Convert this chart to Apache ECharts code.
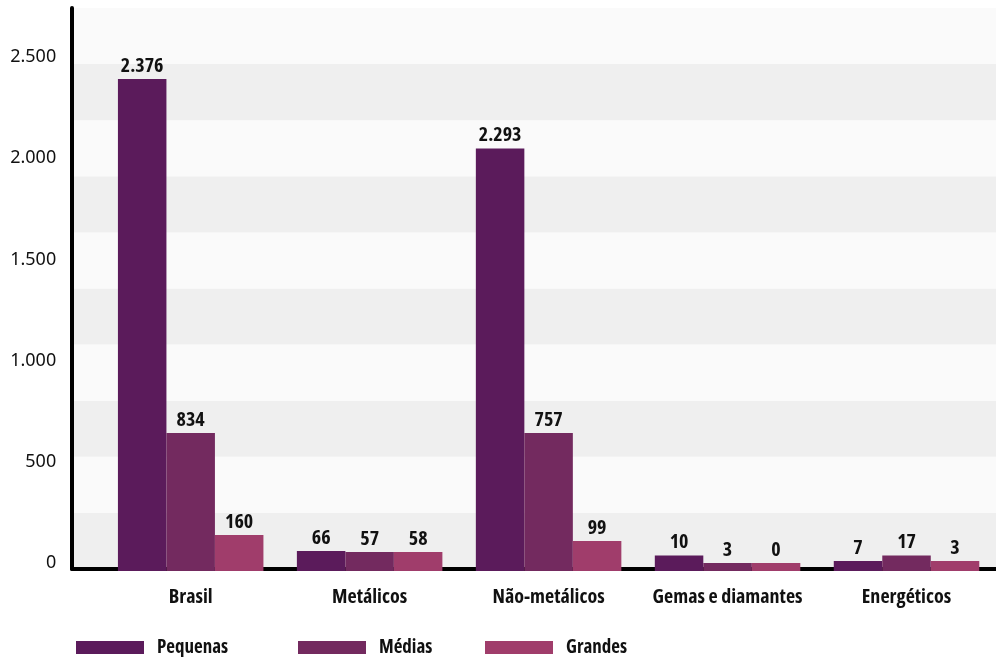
<!DOCTYPE html>
<html>
<head>
<meta charset="utf-8">
<script src="https://cdn.jsdelivr.net/npm/echarts@6/dist/echarts.min.js"></script>
<style>
html,body{margin:0;padding:0;background:#fff;}
#chart{width:996px;height:657px;}
</style>
</head>
<body>
<div id="chart"></div>
<script>
// Categories and series names
const categories = ['Brasil', 'Metálicos', 'Não-metálicos', 'Gemas e diamantes', 'Energéticos'];
const seriesNames = ['Pequenas', 'Médias', 'Grandes'];

// Printed values (data labels)
const pequenasValues = [2376, 66, 2293, 10, 7];
const mediasValues   = [834, 57, 757, 3, 17];
const grandesValues  = [160, 58, 99, 0, 3];

// Bar heights as drawn in the picture, read against the axis ticks
const pequenasBars = [2431, 99, 2088, 76, 49];
const mediasBars   = [682, 94, 682, 40, 76];
const grandesBars  = [178, 94, 148, 40, 49];

// Axis ticks
const yTicks = [0, 500, 1000, 1500, 2000, 2500];

const colors = ['#5b1b5b', '#732a5f', '#a03d6b'];
const boldNarrow = "'Open Sans', 'Roboto Condensed', sans-serif";
const boldWeight = 'bold condensed';

function fmt(v) {
  return String(v).replace(/\B(?=(\d{3})+(?!\d))/g, '.');
}

const printed = [pequenasValues, mediasValues, grandesValues];
const bars = [pequenasBars, mediasBars, grandesBars];

const chart = echarts.init(document.getElementById('chart'), null, {renderer: 'canvas'});

const series = seriesNames.map((name, i) => ({
  name: name,
  type: 'bar',
  xAxisIndex: 1,
  yAxisIndex: 1,
  data: bars[i],
  barWidth: 48.5,
  barGap: '0%',
  itemStyle: {color: colors[i]},
  label: {
    show: true,
    position: 'top',
    distance: 3,
    color: '#111',
    fontFamily: boldNarrow,
    fontWeight: boldWeight,
    fontSize: 20,
    formatter: p => fmt(printed[i][p.dataIndex])
  },
  emphasis: {disabled: true}
}));

function legendAt(left, name) {
  return {
    left: left,
    top: 638,
    padding: 0,
    itemWidth: 68,
    itemHeight: 13,
    icon: 'rect',
    selectedMode: false,
    data: [name],
    textStyle: {
      fontFamily: boldNarrow,
      fontWeight: boldWeight,
      fontSize: 19,
      color: '#111',
      padding: [0, 0, 0, 8]
    }
  };
}

const option = {
  animation: false,
  backgroundColor: '#ffffff',
  grid: [
    {left: 72, right: 0, top: 8, bottom: 88, containLabel: false},
    {left: 101.2, width: 901, top: 8, bottom: 86, containLabel: false}
  ],
  xAxis: [
    {
      gridIndex: 0, type: 'value', min: 0, max: 1,
      axisLine: {show: true, lineStyle: {color: '#000', width: 4}},
      axisTick: {show: false}, axisLabel: {show: false}, splitLine: {show: false}
    },
    {
      gridIndex: 1, type: 'category', data: categories,
      axisLine: {show: false}, axisTick: {show: false},
      axisLabel: {
        margin: 16,
        color: '#111',
        fontFamily: boldNarrow,
        fontWeight: boldWeight,
        fontSize: 20,
        interval: 0
      }
    }
  ],
  yAxis: [
    {
      gridIndex: 0, type: 'value', min: 0, max: 10, interval: 1,
      axisLine: {show: true, lineStyle: {color: '#000', width: 4}},
      axisTick: {show: false}, axisLabel: {show: false},
      splitLine: {show: false},
      splitArea: {show: true, areaStyle: {color: ['#efefef', '#fafafa']}}
    },
    {
      gridIndex: 1, type: 'value', min: 0, max: 2782, interval: 500,
      axisLine: {show: false}, axisTick: {show: false}, splitLine: {show: false},
      axisLabel: {
        margin: 45,
        showMaxLabel: false,
        color: '#111',
        fontFamily: "'Noto Sans', 'Open Sans', sans-serif",
        fontSize: 18,
        lineHeight: 16,
        verticalAlign: 'bottom',
        formatter: v => (yTicks.indexOf(v) >= 0 ? fmt(v) : '')
      }
    }
  ],
  legend: [
    legendAt(76, 'Pequenas'),
    legendAt(298, 'Médias'),
    legendAt(485, 'Grandes')
  ],
  series: series
};

chart.setOption(option);
</script>
</body>
</html>
